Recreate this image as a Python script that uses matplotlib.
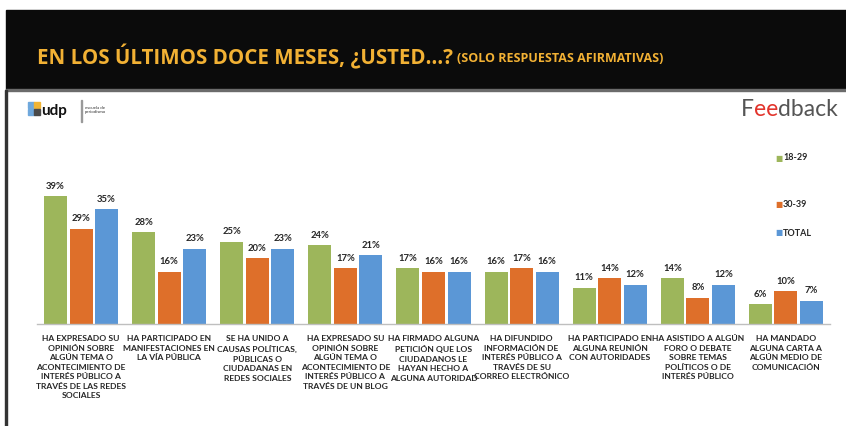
import matplotlib.pyplot as plt
from matplotlib.patches import Rectangle
import numpy as np

W, H = 846, 426

cats = ['HA EXPRESADO SU\nOPINIÓN SOBRE\nALGÚN TEMA O\nACONTECIMIENTO DE\nINTERÉS PÚBLICO A\nTRAVÉS DE LAS REDES\nSOCIALES',
        'HA PARTICIPADO EN\nMANIFESTACIONES EN\nLA VÍA PÚBLICA',
        'SE HA UNIDO A\nCAUSAS POLÍTICAS,\nPÚBLICAS O\nCIUDADANAS EN\nREDES SOCIALES',
        'HA EXPRESADO SU\nOPINIÓN SOBRE\nALGÚN TEMA O\nACONTECIMIENTO DE\nINTERÉS PÚBLICO A\nTRAVÉS DE UN BLOG',
        'HA FIRMADO ALGUNA\nPETICIÓN QUE LOS\nCIUDADANOS LE\nHAYAN HECHO A\nALGUNA AUTORIDAD',
        'HA DIFUNDIDO\nINFORMACIÓN DE\nINTERÉS PÚBLICO A\nTRAVÉS DE SU\nCORREO ELECTRÓNICO',
        'HA PARTICIPADO EN\nALGUNA REUNIÓN\nCON AUTORIDADES',
        'HA ASISTIDO A ALGÚN\nFORO O DEBATE\nSOBRE TEMAS\nPOLÍTICOS O DE\nINTERÉS PÚBLICO',
        'HA MANDADO\nALGUNA CARTA A\nALGÚN MEDIO DE\nCOMUNICACIÓN']
g1829 = [39, 28, 25, 24, 17, 16, 11, 14, 6]
g3039 = [29, 16, 20, 17, 16, 17, 14, 8, 10]
total = [35, 23, 23, 21, 16, 16, 12, 12, 7]
series_names = ['18-29', '30-39', 'TOTAL']
colors = ['#9DB65B', '#DE6F2A', '#5B97D6']

FONT = ['Lato', 'DejaVu Sans']

def fx(px):
    return px / W

def fy(py):
    return 1 - py / H

fig = plt.figure(figsize=(W / 100, H / 100), dpi=100)
fig.patch.set_facecolor('white')
renderer = fig.canvas.get_renderer()

# black header band + frame lines
fig.patches.append(Rectangle((fx(6), fy(90)), 1 - fx(6), fy(10) - fy(90),
                             transform=fig.transFigure, color='#0b0b0b', zorder=0))
fig.patches.append(Rectangle((fx(6), fy(91)), 1 - fx(6), fy(89) - fy(91),
                             transform=fig.transFigure, color='#6b6b6b', zorder=0))
fig.patches.append(Rectangle((fx(5), 0), fx(2), fy(90),
                             transform=fig.transFigure, color='#333333', zorder=0))

fig.text(fx(37), fy(57), 'EN LOS ÚLTIMOS DOCE MESES, ¿USTED…?', color='#F2B134',
         fontsize=14.8, fontweight='bold', family=['Open Sans', 'DejaVu Sans'], va='center')
fig.text(fx(457), fy(59), '(SOLO RESPUESTAS AFIRMATIVAS)', color='#F2B134',
         fontsize=9.0, fontweight='bold', family=['Open Sans', 'DejaVu Sans'], va='center')

# udp logo
for (x0, y0, c) in [(28, 102, '#6FA8DC'), (34, 102, '#F1B434'), (28, 109, '#6FA8DC'), (34, 109, '#4a4a4a')]:
    fig.patches.append(Rectangle((fx(x0), fy(y0 + 6)), fx(6), fy(y0) - fy(y0 + 6),
                                 transform=fig.transFigure, color=c, zorder=1))
fig.text(fx(41), fy(111), 'udp', fontsize=11, fontweight='bold', family=FONT,
         va='center', color='#111111')
fig.patches.append(Rectangle((fx(81), fy(122)), fx(0.8), fy(100) - fy(122),
                             transform=fig.transFigure, color='#999999', zorder=1))
fig.text(fx(85), fy(110), 'escuela de\nperiodismo', fontsize=3.2, family=FONT,
         va='center', color='#333333', linespacing=1.0)

# feedback logo, pieces placed one after another
xpos = 741
for part, c in [('F', '#555555'), ('ee', '#E2342C'), ('dback', '#555555')]:
    t = fig.text(fx(xpos), fy(110), part, fontsize=16.5, family=FONT, color=c, va='center')
    xpos += t.get_window_extent(renderer).width

# chart
ax = fig.add_axes([fx(37), fy(324), fx(830) - fx(37), fy(324 - 45 * 3.28) - fy(324)])
x = np.arange(len(cats))
bw = 23 / 88
step = 25.5 / 88
for i, (vals, name, c) in enumerate(zip([g1829, g3039, total], series_names, colors)):
    pos = x + (i - 1) * step
    ax.bar(pos, vals, width=bw, color=c, label=name)
    for p, v in zip(pos, vals):
        ax.annotate(f'{v}%', (p, v), xytext=(0, 4), textcoords='offset points',
                    ha='center', va='bottom', fontsize=6.8, fontweight='bold',
                    family=FONT, color='#262626')

ax.set_xlim(-0.5, len(cats) - 0.5)
ax.set_ylim(0, 45)
ax.set_xticks(x)
ax.set_xticklabels(cats, fontsize=6.1, fontweight='bold', family=FONT,
                   color='#262626', linespacing=1.42)
ax.tick_params(axis='x', length=0, pad=8)
ax.set_yticks([])
for s in ['top', 'right', 'left']:
    ax.spines[s].set_visible(False)
ax.spines['bottom'].set_color('#BFBFBF')
ax.spines['bottom'].set_linewidth(1)
ax.patch.set_alpha(0)

# legend
for name, c, yy in zip(series_names, colors, [158, 205, 233]):
    fig.text(fx(775), fy(yy), '■', fontsize=5.5, color=c, va='center', family='DejaVu Sans')
    fig.text(fx(783), fy(yy), name, fontsize=6.5, fontweight='bold', family=FONT,
             color='#262626', va='center')

fig.savefig('out.png', dpi=100)
